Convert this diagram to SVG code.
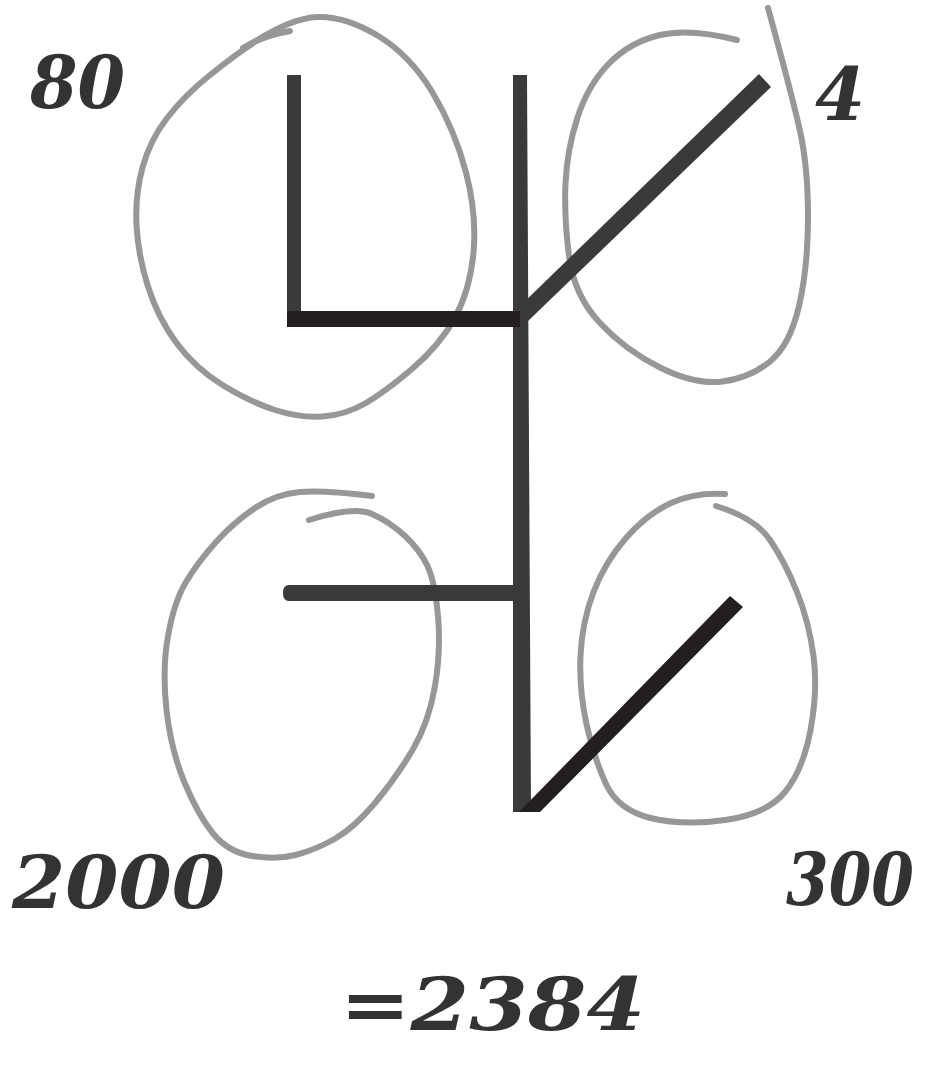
<svg xmlns="http://www.w3.org/2000/svg" width="935" height="1075" viewBox="0 0 935 1075">
<style>
.loop{fill:none;stroke:#979797;stroke-width:6;stroke-linecap:round;stroke-linejoin:round}
.bar{fill:#3a3a3a}
.bar2{fill:#231f20}
.num{font-family:"DejaVu Serif","Liberation Serif",serif;font-style:italic;font-weight:bold;fill:#333;font-size:72px}
</style>
<rect width="935" height="1075" fill="#fff"/>
<g id="loops">
<path class="loop" d="M248,46 Q290,18 317.5,17 Q345,16 377.5,35.5 Q410,55 432.5,92.5 Q455,130 466,172.5 Q477,215 473.5,252.5 Q470,290 455,317.5 Q440,345 412.5,368.5 Q385,392 365,403.5 Q345,415 322.5,416.5 Q300,418 275,410 Q250,402 222.5,385 Q195,368 176.5,343 Q158,318 148,286.5 Q138,255 136.5,225 Q135,195 142.5,167.5 Q150,140 167.5,117.5 Q185,95 210,75 Q235,55 252,44"/>
<path class="loop" d="M243,48 Q262,36 290,31"/>
<path class="loop" d="M737,40 Q690,28 660,35 Q630,42 609,63.5 Q588,85 577.5,117.5 Q567,150 565.5,183.5 Q564,217 569,256 Q574,295 599.5,322.5 Q625,350 660,367.5 Q695,385 722.5,381.5 Q750,378 770,361.5 Q790,345 799,306 Q808,267 808,217 Q808,167 800,131 Q792,95 768,8"/>
<path class="loop" d="M372,496 Q324,490 300,492 Q276,494 255,508 Q234,522 216,542 Q198,562 186,582 Q174,602 168,636 Q162,670 166.5,710 Q171,750 184.5,782.5 Q198,815 213,833.5 Q228,852 252,856 Q276,860 295.5,855 Q315,850 334.5,839 Q354,828 375,803 Q396,778 412.5,750 Q429,722 435,686 Q441,650 438,616 Q435,582 427.5,566 Q420,550 405,536 Q390,522 372,514 Q354,506 309,520"/>
<path class="loop" d="M725,494 Q695,492 671,503 Q647,514 626,538 Q605,562 593.5,592 Q582,622 580.5,656 Q579,690 586.5,724 Q594,758 606,784 Q618,810 650.5,818 Q683,826 725,820 Q767,814 785,792 Q803,770 810.5,730 Q818,690 813.5,656 Q809,622 797,592 Q785,562 770,540 Q755,518 716,506"/>
</g>
<g id="glyph">
<polygon class="bar" points="513,75 527,75 531,812 513,812"/>
<rect class="bar" x="287" y="75" width="14" height="251"/>
<rect class="bar2" x="287" y="311" width="233" height="16"/>
<polygon class="bar" points="520,313 527,322 771,87 759,74 520,306"/>
<path class="bar" d="M289,585 L515,585 L515,601 L289,601 Q283,601 283,593 Q283,585 289,585 Z"/>
<polygon class="bar2" points="519,812 540,812 743,607 730,596"/>
</g>
<g id="labels">
<text class="num" x="30" y="108" textLength="95" lengthAdjust="spacingAndGlyphs">80</text>
<text class="num" x="815" y="120">4</text>
<text class="num" x="12" y="908" textLength="213" lengthAdjust="spacingAndGlyphs">2000</text>
<text class="num" x="786" y="905" textLength="128" lengthAdjust="spacingAndGlyphs">300</text>
<text class="num" x="340" y="1030" textLength="305" lengthAdjust="spacingAndGlyphs">=2384</text>
</g>
</svg>
